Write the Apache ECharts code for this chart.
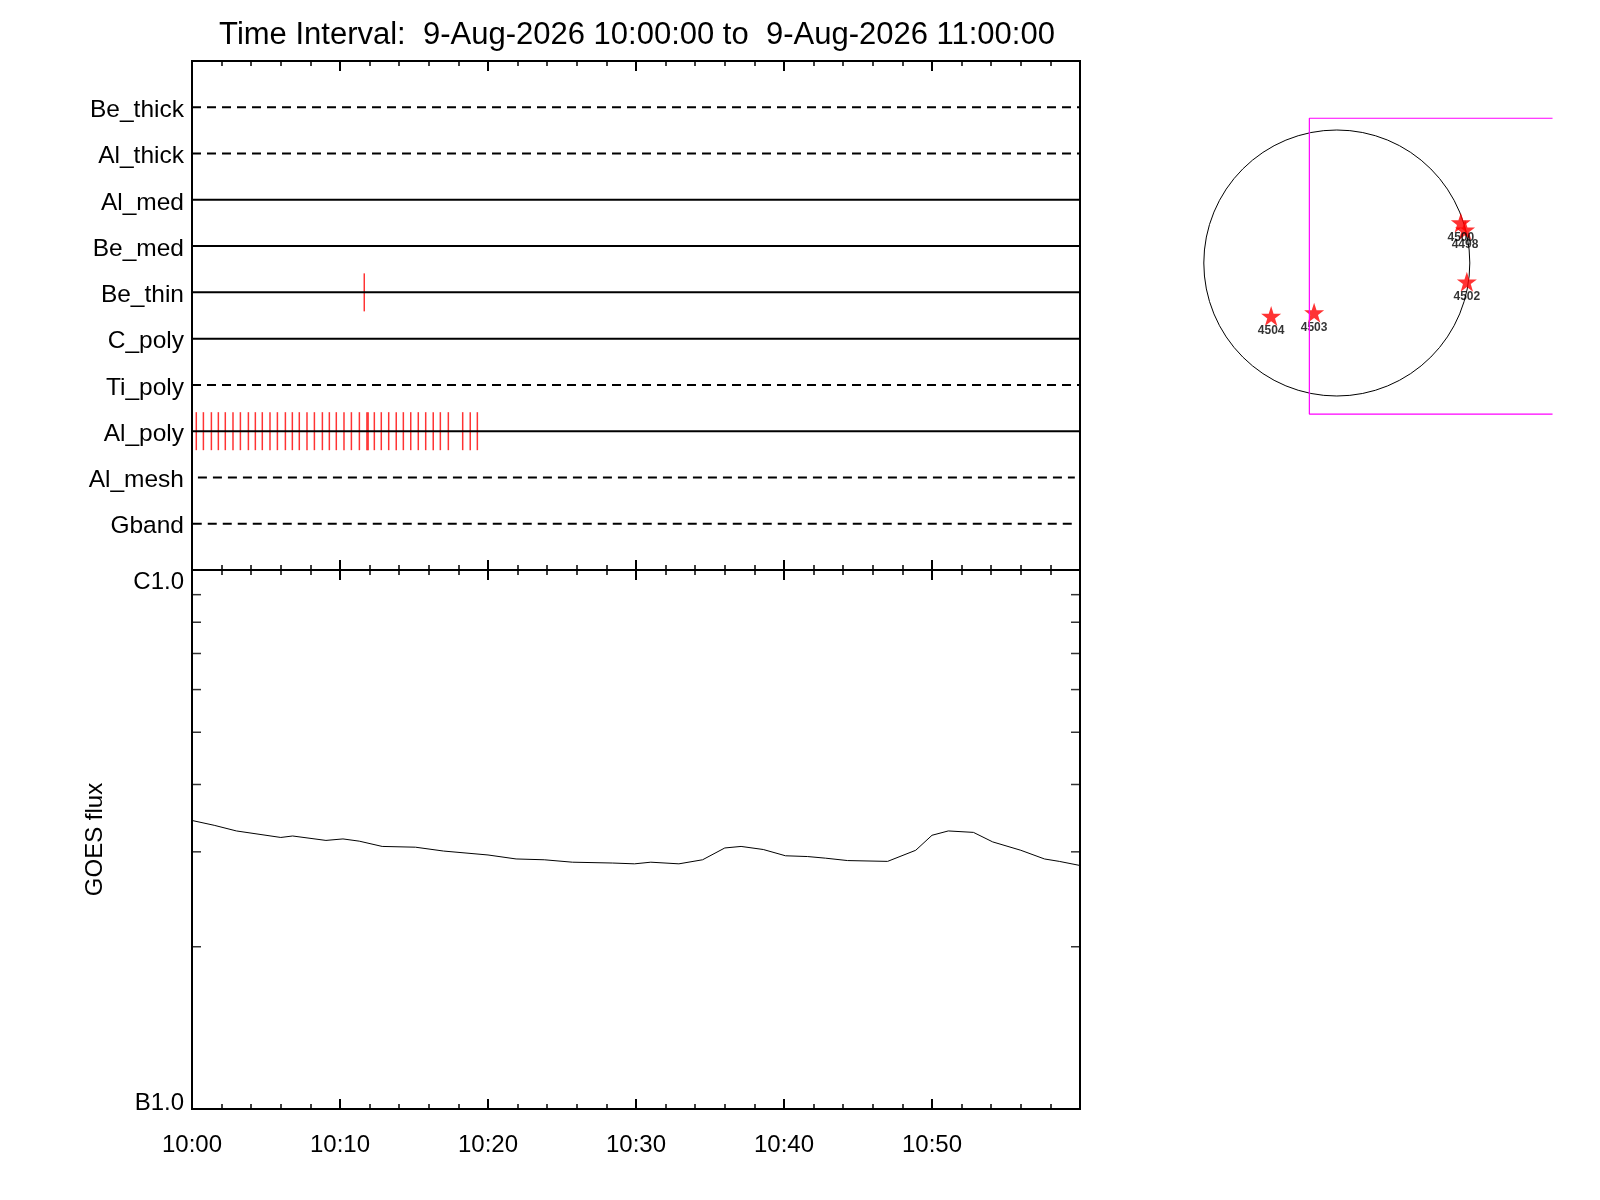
<!DOCTYPE html>
<html>
<head>
<meta charset="utf-8">
<title>Time Interval</title>
<script src="https://cdn.jsdelivr.net/npm/echarts@6/dist/echarts.min.js"></script>
<style>
  html, body { margin: 0; padding: 0; background: #fff; }
  #chart { width: 1600px; height: 1200px; }
</style>
</head>
<body>
<div id="chart"></div>
<script>
// filter channels, top to bottom
const channels = ['Be_thick', 'Al_thick', 'Al_med', 'Be_med', 'Be_thin', 'C_poly', 'Ti_poly', 'Al_poly', 'Al_mesh', 'Gband'];
const channelDashed = [true, true, false, false, false, false, true, false, true, true];
const channelStart = [0, 0, 0, 0, 0, 0, 0, 0, 0.4, 0.05];
const channelEnd = [60, 60, 60, 60, 60, 60, 60, 60, 59.65, 59.8];

// exposures, minutes after 10:00
const beThinMarks = [11.64];
const alPolyMarks = [0.29, 0.77, 1.31, 1.78, 2.25, 2.77, 3.27, 3.81, 4.28, 4.75, 5.27, 5.77,
  6.31, 6.78, 7.25, 7.77, 8.27, 8.81, 9.28, 9.75, 10.27, 10.77, 11.31, 11.82, 11.9, 12.32,
  12.79, 13.29, 13.8, 14.28, 14.78, 15.29, 15.79, 16.3, 16.78, 17.32, 18.29, 18.8, 19.28];

// GOES flux (W/m^2)
const goesMinutes = [0, 1.5, 3.0, 6.0, 6.8, 9.05, 10.2, 11.3, 12.85, 15.1, 17.0, 20.0, 21.9, 23.8,
  25.7, 28.4, 29.9, 31.0, 32.9, 34.5, 36.0, 37.1, 38.6, 40.1, 41.6, 42.8, 44.3, 47.0, 48.9,
  50.0, 51.1, 52.8, 54.1, 56.0, 57.6, 58.6, 60];
const goesFlux = [3.43e-7, 3.36e-7, 3.28e-7, 3.19e-7, 3.21e-7, 3.15e-7, 3.17e-7, 3.14e-7, 3.07e-7,
  3.06e-7, 3.01e-7, 2.96e-7, 2.91e-7, 2.90e-7, 2.87e-7, 2.86e-7, 2.85e-7, 2.87e-7, 2.85e-7,
  2.90e-7, 3.05e-7, 3.07e-7, 3.03e-7, 2.95e-7, 2.94e-7, 2.92e-7, 2.89e-7, 2.88e-7, 3.02e-7,
  3.22e-7, 3.28e-7, 3.26e-7, 3.13e-7, 3.02e-7, 2.91e-7, 2.88e-7, 2.83e-7];
const fluxMinorTicks = [2e-7, 3e-7, 4e-7, 5e-7, 6e-7, 7e-7, 8e-7, 9e-7];

const timeLabels = ['10:00', '10:10', '10:20', '10:30', '10:40', '10:50', ''];

// sun map, arcsec
const sunRadius = 950;
const spotIds = ['4498', '4500', '4502', '4503', '4504'];
const spotX = [916, 886, 929, -162, -469];
const spotY = [236, 288, -134, -355, -379];
const fovX = [-196, 1541];
const fovY = [-1079, 1034];

const font = 'Liberation Sans';
const starPath = 'path://M50 0 L61.8 35.4 L99 35.4 L69 57.3 L80.4 92.7 L50 70.8 L19.6 92.7 L31 57.3 L1 35.4 L38.2 35.4 Z';

function timeAxis(grid, pos, labels) {
  return {
    type: 'value', gridIndex: grid, position: pos, min: 0, max: 60, interval: 10,
    axisLine: {show: false},
    axisTick: {show: true, inside: true, length: 10, lineStyle: {color: '#000', width: 2}},
    minorTick: {show: true, splitNumber: 5, length: 5, lineStyle: {color: '#000', width: 1.5}},
    splitLine: {show: false},
    axisLabel: {
      show: labels, margin: 24, fontSize: 24, color: '#000', fontFamily: font,
      formatter: v => timeLabels[Math.round(v / 10)]
    }
  };
}

const series = [];

channels.forEach((name, i) => {
  series.push({
    type: 'line', xAxisIndex: 0, yAxisIndex: 0, symbol: 'none', silent: true,
    data: [[channelStart[i], name], [channelEnd[i], name]],
    lineStyle: {color: '#000', width: 2, type: channelDashed[i] ? [9, 6] : 'solid'}
  });
});

series.push({
  type: 'scatter', xAxisIndex: 0, yAxisIndex: 0, symbol: 'rect', symbolSize: [1.5, 38],
  itemStyle: {color: '#ff0000'},
  data: beThinMarks.map(t => [t, 'Be_thin']).concat(alPolyMarks.map(t => [t, 'Al_poly']))
});

series.push({
  type: 'line', xAxisIndex: 2, yAxisIndex: 1, symbol: 'none',
  lineStyle: {color: '#000', width: 1},
  data: goesMinutes.map((t, i) => [t, goesFlux[i]])
});

// inward minor ticks of the flux axis, left and right
series.push({
  type: 'scatter', xAxisIndex: 2, yAxisIndex: 1, symbol: 'rect', symbolSize: [9, 1.5],
  symbolOffset: [4.5, 0], clip: false, itemStyle: {color: '#000'}, silent: true,
  data: fluxMinorTicks.map(v => [0, v])
});
series.push({
  type: 'scatter', xAxisIndex: 2, yAxisIndex: 1, symbol: 'rect', symbolSize: [9, 1.5],
  symbolOffset: [-4.5, 0], clip: false, itemStyle: {color: '#000'}, silent: true,
  data: fluxMinorTicks.map(v => [60, v])
});

// sun disk
series.push({
  type: 'custom', xAxisIndex: 4, yAxisIndex: 2, silent: true,
  data: [[0, 0, sunRadius]],
  renderItem: (params, api) => {
    const c = api.coord([api.value(0), api.value(1)]);
    const r = api.size([api.value(2), 0])[0];
    return {type: 'circle', shape: {cx: c[0], cy: c[1], r: r}, style: {fill: 'none', stroke: '#000', lineWidth: 1}};
  }
});

// field of view box
series.push({
  type: 'line', xAxisIndex: 4, yAxisIndex: 2, symbol: 'none', silent: true,
  lineStyle: {color: '#ff00ff', width: 1.2},
  data: [[fovX[1], fovY[1]], [fovX[0], fovY[1]], [fovX[0], fovY[0]], [fovX[1], fovY[0]]]
});

series.push({
  type: 'scatter', xAxisIndex: 4, yAxisIndex: 2, symbol: starPath, symbolSize: 20,
  itemStyle: {color: '#ff0000'},
  label: {
    show: true, position: 'bottom', distance: -1, fontSize: 12, color: '#000', fontFamily: font,
    fontWeight: 'bold', formatter: p => spotIds[p.dataIndex]
  },
  data: spotX.map((x, i) => [x, spotY[i]])
});

const option = {
  animation: false,
  backgroundColor: '#fff',
  textStyle: {fontFamily: font},
  title: {
    text: 'Time Interval:  9-Aug-2026 10:00:00 to  9-Aug-2026 11:00:00',
    left: 632, top: 15, textAlign: 'center',
    textStyle: {fontSize: 31, fontWeight: 'normal', color: '#000', fontFamily: font}
  },
  grid: [
    {left: 192, top: 61, width: 888, height: 509, show: true, borderColor: '#000', borderWidth: 2},
    {left: 192, top: 570, width: 888, height: 539, show: true, borderColor: '#000', borderWidth: 2},
    {left: 1180, top: 95, width: 392, height: 336}
  ],
  xAxis: [
    timeAxis(0, 'bottom', false),
    timeAxis(0, 'top', false),
    timeAxis(1, 'bottom', true),
    timeAxis(1, 'top', false),
    {type: 'value', gridIndex: 2, min: -1120, max: 1680, show: false}
  ],
  yAxis: [
    {
      type: 'category', gridIndex: 0, inverse: true, boundaryGap: false,
      data: [''].concat(channels, ['']),
      axisLine: {show: false}, axisTick: {show: false}, splitLine: {show: false},
      axisLabel: {
        interval: 0, margin: 8, fontSize: 24.5, color: '#000', fontFamily: font,
        formatter: v => v ? '{ch|' + v + '}' : '',
        rich: {ch: {fontSize: 24.5, color: '#000', fontFamily: font, padding: [6, 0, 0, 0]}}
      }
    },
    {
      type: 'log', logBase: 10, gridIndex: 1, min: 1e-7, max: 1e-6,
      axisLine: {show: false}, axisTick: {show: false}, splitLine: {show: false},
      name: 'GOES flux', nameLocation: 'middle', nameGap: 85,
      nameTextStyle: {fontSize: 24, color: '#000', fontFamily: font},
      axisLabel: {
        showMinLabel: true, showMaxLabel: true, margin: 8, fontSize: 24, color: '#000', fontFamily: font,
        formatter: v => v > 5e-7 ? '{hi|C1.0}' : '{lo|B1.0}',
        rich: {
          hi: {fontSize: 24, color: '#000', fontFamily: font, padding: [24, 0, 0, 0]},
          lo: {fontSize: 24, color: '#000', fontFamily: font, padding: [0, 0, 11, 0]}
        }
      }
    },
    {type: 'value', gridIndex: 2, min: -1200, max: 1200, show: false}
  ],
  series: series
};

const chart = echarts.init(document.getElementById('chart'));
chart.setOption(option);
</script>
</body>
</html>
